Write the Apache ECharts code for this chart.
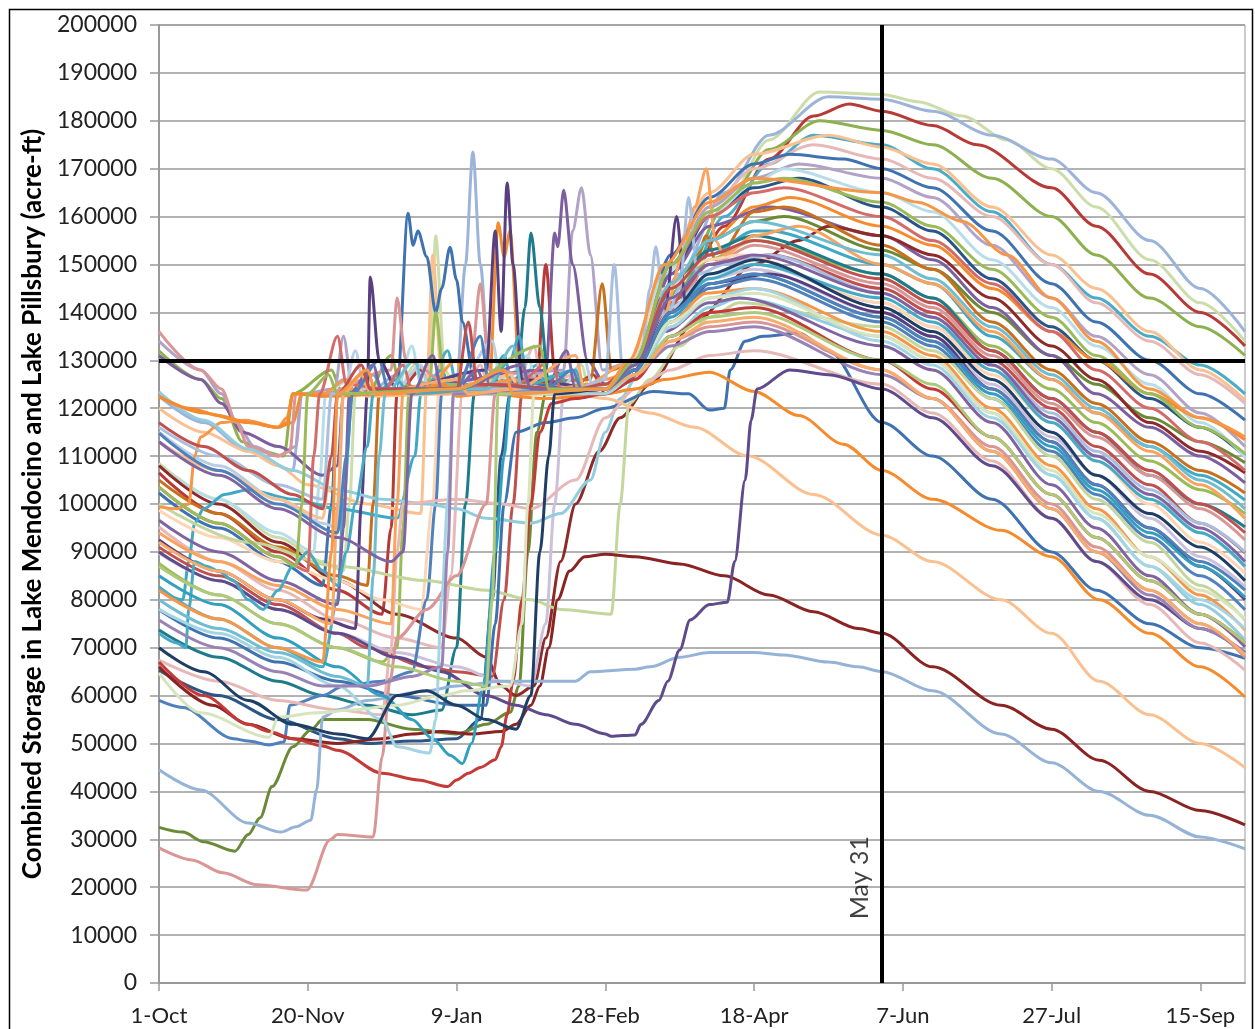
<!DOCTYPE html>
<html><head><meta charset="utf-8">
<script src="https://cdn.jsdelivr.net/npm/echarts@6/dist/echarts.min.js"></script>
<style>html,body{margin:0;padding:0;background:#fff}#c{width:1255px;height:1029px}</style>
</head><body><div id="c"></div>
<script>
// x = days since 1-Oct (leap year), y = storage in thousand acre-ft
const xTickLabels = ['1-Oct','20-Nov','9-Jan','28-Feb','18-Apr','7-Jun','27-Jul','15-Sep'];
const may31Day = 243;
const targetStorage = 130;

const s01 = [[0,108.5],[20,101],[40,93],[55,88],[62,86],[64,100],[66,123],[72,125],[76,123],[80,123],[86,129],[89,125],[91,126],[93,156],[96,128],[100,124],[110,124],[118,127],[122,123],[135,124],[142,129],[145,123],[150,123],[160,127],[175,145],[190,162],[205,176],[222,186],[243,185.5],[255,184],[270,181],[285,176],[300,170],[315,162],[333,151],[350,142],[365,134]];
const s02 = [[0,122.5],[15,117],[30,111],[45,107],[48,123],[55,122.5],[62,126],[66,123],[70,123],[80,127],[84,123],[100,125],[103,150],[105.5,173.5],[108,150],[111,128],[115,124],[125,128],[130,123],[150,124],[160,128],[175,148],[190,165],[205,177],[225,185],[243,184.5],[260,182],[280,177],[300,172],[315,165],[333,155],[350,145],[365,136]];
const s03 = [[0,106.5],[20,98],[40,90],[60,82],[75,77],[78,95],[80,123],[88,128],[92,124],[100,123],[110,126],[115,123],[127,126],[130,150],[133,128],[138,124],[146,127],[150,123],[160,126],[175,142],[190,158],[205,172],[220,181],[232,183.5],[243,182],[260,179],[275,175],[300,166],[315,158],[333,148],[350,140],[365,133]];
const s04 = [[0,132],[14,126],[21,122],[28,113],[35,111],[42,110],[45,123],[58,128],[61,124],[70,123],[78,131],[81,125],[90,124],[100,127],[103,124],[120,123],[130,126],[140,124],[150,124],[160,128],[175,145],[190,162],[205,174],[222,180],[243,178],[260,175],[280,168],[300,160],[315,152],[333,143],[350,137],[365,131]];
const s05 = [[0,82.7],[20,76],[40,70],[55,66],[60,80],[62,100],[65,123],[72,127],[76,123],[90,123],[97,132],[100,125],[120,125],[127,129],[131,123],[150,123],[160,127],[175,143],[190,160],[205,171],[220,177],[243,175],[260,170],[280,161],[300,150],[315,143],[333,135],[350,129],[365,123]];
const s06 = [[0,120],[15,115],[30,111],[40,108],[50,104],[70,100],[88,98],[90,125],[92,152],[95,126],[100,123],[150,123],[158,128],[170,150],[185,165],[200,173],[225,177],[243,174.5],[260,171],[280,162],[300,152],[315,145],[333,136],[350,128],[365,121.7]];
const s07 = [[0,95.2],[20,88],[40,82],[60,76],[80,72],[95,70],[98,85],[102,123],[108,129],[111,124],[120,124],[126,133],[129,124],[139,127],[142,123],[150,123],[160,129],[172,150],[185,162],[200,170],[220,175],[243,172],[260,168],[280,160],[300,150],[315,142],[333,134],[350,127],[365,121]];
const s08 = [[0,102.3],[20,95],[40,88],[55,83],[58,100],[60,123],[80,124],[83.7,160.7],[85.4,154],[87,157],[90,151.6],[93,140],[95,145],[97.8,153.6],[100,146.8],[102,138],[106,126],[150,124],[160,130],[172,152],[185,164],[200,171],[212,173],[230,172],[243,170],[260,166],[280,157],[300,146],[315,138],[333,130],[350,123],[365,117.5]];
const s09 = [[0,134],[14,128],[21,123],[26,117],[32,112],[40,110],[46,112],[48,123],[59,124],[62,135],[65,124],[100,124],[136,128],[139,157],[142,166],[145,152],[149,128],[160,130],[172,150],[185,162],[200,168],[215,171],[243,168],[260,164],[280,154],[300,143],[315,135],[333,127],[350,119],[365,112]];
const s10 = [[0,65.3],[20,60],[40,55],[60,51],[70,50],[85,50.5],[100,51],[108,55],[112,80],[115,110],[118,123],[150,124],[160,130],[172,148],[185,160],[200,166],[215,168],[243,162],[260,157],[280,147],[300,137],[315,130],[333,122],[350,116],[365,110]];
const s11 = [[0,108],[20,101],[40,94],[52,90],[54,105],[56,123],[64,126],[68,123],[80,124],[85,133],[88,125],[110,126],[115,124],[124,131],[127,124],[150,124],[158,128],[170,148],[185,160],[200,167],[210,170],[243,165],[260,161],[280,151],[300,141],[315,133],[333,125],[350,117],[365,109.8]];
const s12 = [[0,122.4],[15,119],[30,117],[40,116],[45,117],[48,123],[70,123],[111,125],[114,158.7],[116,151.6],[118,157],[121,130],[125,124],[150,123],[160,128],[172,145],[185,155],[200,162],[212,164],[243,158],[260,154],[280,145],[300,136],[315,130],[333,123],[350,118],[365,113.4]];
const s13 = [[0,32.5],[8,31.5],[15,29.5],[25.5,27.5],[30,31],[34,34.5],[38,41],[45,49.3],[51,52.8],[55,55],[70,55],[85,53],[100,52],[110,54],[118,56.5],[121,62],[124,90],[127,115],[130,123],[150,124],[160,129],[172,145],[185,155],[200,159],[210,160],[243,153],[260,149],[280,140],[300,131],[315,125],[333,118],[350,113],[365,108.6]];
const s14 = [[0,131],[14,126],[21,121],[28,115],[40,112],[55,106],[60,108],[62,123],[80,124],[130,128],[133,156.6],[134,153.7],[136,165.5],[139,150],[144,130],[150,125],[160,129],[172,148],[185,158],[205,162],[243,156],[260,151],[280,141],[300,131],[315,123],[333,116],[350,110],[365,104.4]];
const s15 = [[0,108],[20,100],[40,92],[60,84],[80,77],[100,72],[110,68],[115,62],[120,60],[126,62],[130,72],[135,88],[140,100],[148,111],[155,118],[165,125],[180,138],[200,150],[215,155],[225,158],[243,156],[260,152],[280,143],[300,133],[315,126],[333,117],[350,111],[365,106.5]];
const s16 = [[0,105],[20,98],[40,91],[60,85],[70,83],[72,100],[74,123],[100,124],[145,126],[149,146],[152,128],[160,130],[172,146],[180,150],[184,156],[187,151],[200,161],[210,162],[243,154],[260,149],[280,138],[300,128],[315,121],[333,113],[350,107],[365,102.3]];
const s17 = [[0,82],[8,80],[10,88],[12,96],[15,99],[22,102],[30,103],[45,101],[60,99],[80,97],[86,110],[88,123],[95,128],[98,124],[110,124],[116,131],[119,124],[135,127],[138,123],[150,123],[160,127],[172,142],[185,152],[200,157],[205,157],[243,150],[260,146],[280,135],[300,126],[315,119],[333,112],[350,106],[365,100.8]];
const s18 = [[0,87.6],[20,81],[40,75],[60,70],[75,67],[80,70],[82,95],[84,123],[91,126],[93,140],[96,125],[120,124],[150,124],[160,128],[172,142],[185,151],[200,155],[243,148],[260,143],[280,133],[300,124],[315,117],[333,109],[350,103],[365,98]];
const s19 = [[0,73.7],[20,68],[40,63],[55,60],[70,58],[85,56],[95,57],[100,70],[103,100],[106,123],[120,124],[123,141],[125,156.6],[128,141],[131,125],[150,124],[160,128],[172,145],[185,153],[200,156],[243,148],[260,143],[280,132],[300,122],[315,115],[333,106],[350,100],[365,95.2]];
const s20 = [[0,136],[14,128],[21,124],[26,117],[30,112],[40,110],[44,111],[46,123],[55,123],[78,128],[80,143],[83,130],[100,124],[105,130],[108,146],[111,128],[150,123],[160,127],[172,140],[185,150],[200,154],[243,146],[260,141],[280,131],[300,121],[315,114],[333,106],[350,99],[365,92.5]];
const s21 = [[0,91],[20,85],[40,79],[60,73],[70,70],[90,66],[100,65],[112,64],[116,80],[119,100],[122,123],[150,124],[160,128],[172,142],[185,150],[205,152],[243,145],[260,140],[280,130],[300,120],[315,112],[333,104],[350,96],[365,89.8]];
const s22 = [[0,115],[20,108],[40,101],[55,96],[60,95],[62,123],[66,132],[69,124],[80,124],[88,129],[91,123],[100,124],[112,134],[115,125],[135,124],[143,130],[146,124],[150,125],[160,129],[172,141],[185,148],[200,150],[243,142],[260,137],[280,128],[300,118],[315,110],[333,102],[350,94],[365,86.8]];
const s23 = [[0,98.7],[20,93],[40,88],[60,84],[75,80],[88,78],[92,100],[94,123],[120,123],[150,124],[158,130],[170,145],[185,151],[195,152],[243,142],[260,137],[280,127],[300,117],[315,109],[333,100],[350,92],[365,85.6]];
const s24 = [[0,89.7],[20,84],[40,78],[60,73],[80,69],[100,66],[115,63],[125,62],[130,75],[133,100],[136,123],[150,124],[160,127],[172,140],[185,147],[200,149],[243,140],[260,135],[280,125],[300,114],[315,106],[333,97],[350,89],[365,82.7]];
const s25 = [[0,92.5],[20,86],[40,80],[55,76],[66,74],[68,100],[70,123],[71,147.4],[74,130],[80,124],[110,128],[113,157],[115,136],[117,167],[119,150],[122,126],[150,124],[160,128],[170,140],[174,160],[177,142],[185,146],[205,148],[243,140],[260,135],[280,124],[300,113],[315,104],[333,95],[350,87],[365,80]];
const s26 = [[0,59],[8,57.5],[25,51],[30,50.5],[37,49.7],[42,50.3],[44,58],[55,60],[62,62],[75,63],[85,65],[90,80],[93,100],[95,123],[120,124],[150,124],[160,127],[172,138],[185,145],[200,147],[243,138],[260,133],[280,122],[300,111],[315,102],[333,93],[350,85],[365,77.9]];
const s27 = [[0,100],[30,92],[60,87],[90,84],[110,82],[125,80],[135,78],[152,77],[155,100],[158,121],[165,126],[175,133],[185,139],[195,142],[243,137],[260,132],[280,122],[300,110],[315,101],[333,92],[350,83],[365,75.8]];
const s28 = [[0,99.4],[6,99],[10,100],[12,110],[14,114],[21,117],[29,117.5],[40,116],[43,118],[45,123],[55,123],[63,126],[66,123],[90,124],[100,130],[103,124],[120,126],[124,123],[145,125],[150,126],[160,128],[172,138],[184,144],[200,145],[243,136],[260,131],[280,120],[300,108],[315,99],[333,89],[350,81],[365,73.7]];
const s29 = [[0,123.4],[15,117.5],[30,111.5],[45,107],[60,103],[75,101],[90,100],[100,99],[110,97],[125,96],[135,98],[145,105],[150,115],[155,122],[162,128],[172,135],[185,141],[195,143],[243,135],[260,130],[280,119],[300,106],[315,97],[333,87],[350,79],[365,71.6]];
const s30 = [[0,96.6],[20,90],[40,84],[60,79],[62,95],[64,123],[72,129],[75,123],[100,124],[107,128],[110,124],[130,124],[137,132],[140,124],[150,123],[158,126],[170,136],[185,142],[195,143],[243,133],[260,128],[280,117],[300,104],[315,95],[333,85],[350,77],[365,70.2]];
const s31 = [[0,77.9],[20,72],[40,67],[60,63],[80,60],[100,58],[110,58],[113,75],[116,100],[120,115],[130,117],[140,118],[150,120],[166,123.5],[178,123],[185,119.6],[190,120],[192,128],[197,134],[203,135],[215,135.7],[225,132],[243,117],[260,110],[280,101],[300,90],[315,82],[333,75],[350,70],[365,67.8]];
const s32 = [[0,67.4],[20,63],[40,59],[60,57],[75,56],[78,70],[80,90],[82,100],[100,101],[115,100],[125,99],[140,105],[150,118],[160,124],[172,128],[185,131],[200,132],[243,125],[260,119],[280,109],[300,97],[315,88],[333,79],[350,71],[365,65.3]];
const s33 = [[0,113],[20,107],[40,101],[55,97],[58,110],[60,123],[66,125],[70,122.5],[100,123],[118,127],[122,123],[140,123],[150,122],[165,119],[180,116],[198,110],[220,102],[243,93.5],[260,88],[283,80],[300,73],[316,63],[333,56],[350,50],[365,45]];
const s34 = [[0,122.5],[10,120],[20,118.5],[30,117],[40,116],[43,117],[45,123],[56,122.5],[80,123],[96,125],[100,122.5],[110,123],[130,122],[150,123],[160,124],[170,126],[185,127.5],[200,123.5],[215,118.5],[230,112.5],[243,107],[260,101],[283,94.5],[300,89],[316,80],[333,73],[350,66],[365,59.7]];
const s35 = [[0,66],[18,58],[30,54],[45,51],[60,50],[75,51],[85,52],[95,52.5],[105,52],[115,52.5],[120,54],[125,58],[128,62],[131,70],[134,80],[138,86],[143,89],[150,89.5],[160,89],[175,87.5],[190,85],[205,81],[220,77.5],[235,74],[243,73],[260,66],[283,58],[300,53],[316,46.5],[333,40],[350,36],[365,33]];
const s36 = [[0,67],[15,60],[30,54],[37,52.5],[45,51],[55,49.5],[60,48.6],[75,43.8],[87,42.4],[97,41],[100,42.4],[104,43.8],[108,45],[113,46.6],[115,49.3],[117,56],[119,63],[122,80],[125,100],[128,115],[132,121],[140,122],[150,123],[160,126],[172,135],[185,140],[200,141],[243,130],[260,124],[280,114],[300,102],[315,93],[333,84],[350,77],[365,71]];
const s37 = [[0,44.5],[14,40.3],[30,33.4],[41,31.5],[46,32.6],[51,34],[53,40.3],[55,55.5],[60,57],[70,59],[90,61],[100,62],[115,63],[130,63],[140,63],[145,65],[160,65.5],[165,66],[175,68],[185,69],[200,69],[210,68.5],[225,67],[235,66],[243,65],[260,61],[283,52],[300,46],[316,40],[333,35],[350,30.5],[365,28]];
const s38 = [[0,28.2],[11,25.7],[21.5,23],[33,20.5],[49.7,19.4],[57.5,29.9],[60,31],[72,30.5],[75,47.2],[77.6,63],[80,72],[90,78],[100,85],[110,100],[113,123],[150,124],[160,127],[172,134],[185,137],[200,138],[243,128],[260,122],[280,112],[300,100],[315,91],[333,82],[350,75],[365,68]];
const s39 = [[0,94],[20,88],[40,83],[60,78],[78,75],[80,100],[82,123],[140,124],[160,130],[170,140],[176,152],[180,162],[184,170],[187,155],[190,152],[200,156],[215,158],[243,150],[260,146],[280,136],[300,126],[315,119],[333,111],[350,104],[365,97]];
const s40 = [[0,116],[20,110],[40,104],[55,101],[58,123],[100,124],[140,124],[150,126],[153,150],[156,127],[162,130],[165,145],[167,153.7],[170,138],[175,145],[178,164],[181,148],[190,150],[205,152],[243,144],[260,139],[280,129],[300,119],[315,111],[333,103],[350,96],[365,90]];
const s41 = [[0,90],[20,84],[40,78],[60,73],[80,68],[95,65],[110,60],[120,58],[130,56],[140,54],[150,52],[152,51.5],[160,51.8],[162,54],[168,59],[171,63],[175,69.5],[178.5,75.8],[185,79],[191,79.5],[193.5,88],[197,105],[199,117.5],[201,124],[212,128],[225,127],[243,124],[260,118],[280,108],[300,97],[315,88],[333,80],[350,74],[365,69]];
const s42 = [[0,73],[6,71],[9,70],[10,78],[12,88],[16,87],[20,86],[25,84],[30,80],[35,78],[40,82],[45,87],[50,90],[55,86],[60,83],[63,90],[66,100],[70,112],[72,123],[80,126],[84,123],[110,124],[118,130],[121,135],[124,125],[140,128],[143,124],[150,124],[160,128],[172,140],[185,147],[200,150],[243,143],[260,138],[280,128],[300,117],[315,109],[333,101],[350,94],[365,87]];
const s43 = [[0,85],[20,79],[40,72],[60,66],[75,60],[85,55],[92,51],[98,47.5],[102,45.8],[105,50],[109,62],[113,90],[116,110],[118,123],[150,124],[160,128],[172,139],[185,146],[200,148],[243,139],[260,134],[280,123],[300,112],[315,103],[333,94],[350,87],[365,80.5]];
const s44 = [[0,78],[20,73],[40,68],[60,62],[75,55],[80,49.3],[91,48],[93,55],[95,80],[97,100],[99,123],[150,123],[160,127],[172,137],[185,143],[200,145],[243,134],[260,129],[280,118],[300,106],[315,97],[333,87],[350,80],[365,74]];
const s45 = [[0,64.7],[14,56.4],[37,51.3],[40,55.5],[53,56.4],[65,57],[80,58],[95,60],[103,61],[118,62],[122,75],[124,100],[126,123],[150,124],[160,128],[172,138],[185,143],[200,144],[243,135],[260,130],[280,119],[300,107],[315,98],[333,89],[350,82],[365,76]];
const s46 = [[0,70],[15,65],[30,59],[45,54],[60,52],[70,51],[80,60],[90,61],[100,58],[110,55],[120,53],[125,60],[128,90],[131,110],[133,123],[150,124],[160,128],[172,140],[185,148],[200,151],[243,141],[260,136],[280,126],[300,115],[315,106],[333,98],[350,91],[365,84]];
const s47 = [[0,103.5],[20,96],[40,89],[50,86],[52,110],[54,123],[60,135],[63,125],[76,124],[82,129],[85,124],[90,124],[120,125],[132,130],[135,124],[150,124],[160,130],[172,150],[185,160],[200,165],[210,166],[243,160],[260,155],[280,146],[300,136],[315,128],[333,120],[350,113],[365,107]];
const s48 = [[0,80],[20,74],[40,69],[60,64],[70,62],[72,85],[74,110],[76,123],[86,130],[89,124],[110,124],[119,133],[122,124],[150,124],[160,129],[172,146],[185,155],[200,159],[243,152],[260,147],[280,137],[300,127],[315,120],[333,112],[350,105],[365,99]];
const s49 = [[0,75.8],[20,70],[40,65],[55,62],[70,62],[85,64],[95,66],[97,90],[99,123],[150,124],[160,127],[172,133],[185,136],[200,137],[243,127],[260,122],[280,111],[300,99],[315,90],[333,81],[350,74],[365,69]];
const s50 = [[0,87],[20,81],[40,75],[60,70],[80,66],[100,63],[110,62],[112,80],[114,123],[150,124],[160,127],[172,135],[185,139],[200,140],[243,130],[260,125],[280,114],[300,102],[315,93],[333,84],[350,77],[365,71]];
const s51 = [[0,92],[20,86],[40,80],[58,75],[60,100],[62,123],[68,127],[71,123],[100,126],[104,123],[120,124],[140,131],[143,124],[150,124],[160,127],[172,134],[185,138],[200,139],[243,128],[260,122],[280,111],[300,99],[315,90],[333,82],[350,75],[365,68.5]];
const s52 = [[0,114.8],[20,107],[40,100],[60,94],[63,110],[65,123],[74,130],[77,124],[100,124],[108,135],[111,125],[130,124],[139,128],[142,124],[150,124],[160,128],[172,140],[185,146],[200,148],[243,139],[260,134],[280,124],[300,113],[315,104],[333,95],[350,88],[365,82]];
const s53 = [[0,117],[15,112],[30,107],[45,102],[55,99],[58,110],[60,123],[68,129],[71,124],[100,124],[104,138],[107,125],[140,124],[150,125],[160,130],[172,145],[185,152],[200,155],[243,147],[260,142],[280,132],[300,122],[315,115],[333,107],[350,100],[365,94]];
const s54 = [[0,113],[20,106],[40,99],[60,93],[78,88],[82,90],[85,123],[92,131],[95,124],[100,124],[122,129],[125,124],[150,124],[160,129],[172,143],[185,150],[200,152],[243,144],[260,139],[280,129],[300,118],[315,110],[333,102],[350,95],[365,88]];
const s55 = [[0,103.5],[20,96],[40,89],[46,87],[48,100],[50,123],[57,127],[60,123],[100,124],[128,133],[131,124],[150,124],[160,130],[172,150],[185,161],[200,167],[210,168],[243,163],[260,158],[280,149],[300,139],[315,131],[333,123],[350,116],[365,110.5]];
const s56 = [[0,82],[20,76],[40,70],[55,67],[58,90],[60,123],[70,128],[73,123],[100,124],[116,128],[119,123],[150,124],[158,130],[170,150],[185,163],[200,168],[243,165],[255,163],[270,159],[285,152],[300,143],[315,134],[333,124],[350,118],[365,114]];

const seriesData = [s01,s02,s03,s04,s05,s06,s07,s08,s09,s10,s11,s12,s13,s14,s15,s16,s17,s18,s19,s20,s21,s22,s23,s24,s25,s26,s27,s28,s29,s30,s31,s32,s33,s34,s35,s36,s37,s38,s39,s40,s41,s42,s43,s44,s45,s46,s47,s48,s49,s50,s51,s52,s53,s54,s55,s56];
const seriesColors = ['#CCDDAA','#9DB4DA','#B83A36','#8DB14E','#4BACC6','#FAC090','#E6B9B8','#3F72B0','#B3A2C7','#2A5587','#B7DEE8','#F58B2C','#6A8A35','#7D5FA0','#8E2B29','#C8701E','#3FA8C4','#9BBB59','#1E7B8C','#D99694','#C0504D','#B9CDE5','#FCD5B5','#CCC1DA','#5A3F80','#4F81BD','#C3D69B','#F79646','#93CDDD','#8064A2','#3F72B0','#E6B9B8','#FAC090','#F58B2C','#8B2323','#C43A36','#95B3D7','#D99694','#F9A35E','#A9BFE0','#5F4B8B','#46AAC5','#31A0BE','#A5D5E3','#D7E4BD','#1F3E66','#D46B68','#6FBDD1','#9983B5','#AFC97A','#F9AB6B','#4F81BD','#C0504D','#8064A2','#9BBB59','#F79646'];

const FONT = 'Lato, "Open Sans", sans-serif';
const chart = echarts.init(document.getElementById('c'), null, {renderer:'canvas'});
const series = seriesData.map((d, i) => ({
  type: 'line', data: d, showSymbol: false, smooth: 0.3, smoothMonotone: 'x',
  lineStyle: {width: 3, color: seriesColors[i]}, itemStyle: {color: seriesColors[i]},
  silent: true, z: 2
}));
series.push({
  type: 'line', data: [], silent: true, z: 10,
  markLine: {silent: true, symbol: 'none', animation: false,
    lineStyle: {color: '#000', width: 4, type: 'solid'},
    label: {show: false},
    data: [{yAxis: targetStorage}, {xAxis: may31Day}]}
});
series.push({
  type: 'scatter', data: [[235.5, 22]], symbolSize: 0, silent: true, z: 11,
  label: {show: true, position: 'inside', formatter: 'May 31', rotate: 90, color: '#111', fontSize: 25, fontFamily: FONT}
});

chart.setOption({
  animation: false,
  backgroundColor: '#fff',
  grid: {left: 159, top: 25, right: 10, bottom: 46, show: true, borderColor: '#999', borderWidth: 1},
  xAxis: {
    type: 'value', min: 0, max: 365, interval: 50,
    axisLine: {show: true, lineStyle: {color: '#999', width: 2}},
    axisTick: {show: true, length: 8, lineStyle: {color: '#999', width: 1.5}},
    splitLine: {show: false},
    axisLabel: {color: '#222', fontSize: 22, fontFamily: FONT, margin: 22, showMaxLabel: false,
      formatter: v => (v % 50 === 0 ? xTickLabels[v / 50] : '')}
  },
  yAxis: {
    type: 'value', min: 0, max: 200, interval: 10,
    name: 'Combined Storage in Lake Mendocino and Lake Pillsbury (acre-ft)',
    nameLocation: 'middle', nameGap: 110,
    nameTextStyle: {color: '#000', fontSize: 26, fontWeight: 'bold', fontFamily: FONT},
    axisLine: {show: true, lineStyle: {color: '#999', width: 2}},
    axisTick: {show: true, inside: false, length: 9, lineStyle: {color: '#999', width: 1.5}},
    splitLine: {show: true, lineStyle: {color: '#999', width: 1.5}},
    axisLabel: {color: '#222', fontSize: 23, fontFamily: FONT, margin: 22,
      formatter: v => String(v * 1000)}
  },
  graphic: [{type: 'rect', left: 7, top: 7, shape: {width: 1243, height: 1040},
    style: {fill: 'none', stroke: '#000', lineWidth: 1.5}, silent: true, z: 100}],
  series: series
});
</script></body></html>
